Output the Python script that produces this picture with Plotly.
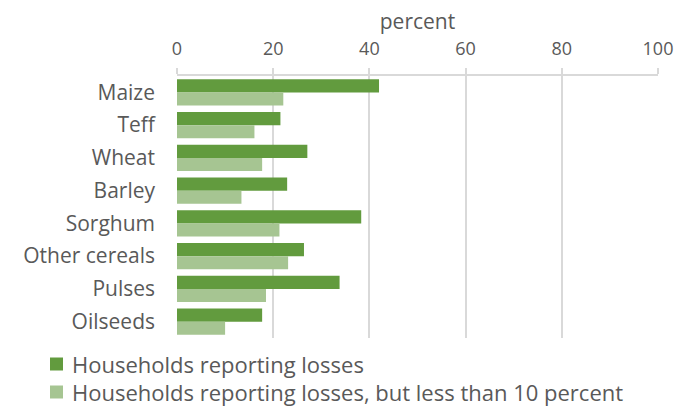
import plotly.graph_objects as go

crops = ["Maize", "Teff", "Wheat", "Barley", "Sorghum", "Other cereals", "Pulses", "Oilseeds"]
losses = [42.0, 21.5, 27.1, 22.9, 38.3, 26.4, 33.8, 17.7]
losses_under10 = [22.1, 16.1, 17.7, 13.4, 21.3, 23.1, 18.5, 10.0]
tick_vals = [0, 20, 40, 60, 80, 100]
series_names = ["Households reporting losses",
                "Households reporting losses, but less than 10 percent"]
series_colors = ["#629b3e", "#a6c592"]

FONT = "Open Sans"
TEXT = "#595959"
GRID = "#d9d9d9"

W, H = 676, 407
ML, MR, MT, MB = 177, 18, 76, 69
PW, PH = W - ML - MR, H - MT - MB


def px_x(px):
    return (px - ML) / PW


def px_y(py):
    return (H - MB - py) / PH


fig = go.Figure()
for name, vals, col in zip(series_names, [losses, losses_under10], series_colors):
    fig.add_trace(go.Bar(
        y=crops, x=vals, orientation="h", name=name,
        marker=dict(color=col, line=dict(width=0)),
    ))

# legend below the plot, drawn as swatches + labels
for i, (name, col) in enumerate(zip(series_names, series_colors)):
    cy = 364 + 28 * i
    fig.add_shape(type="rect", xref="paper", yref="paper",
                  x0=px_x(50), x1=px_x(63), y0=px_y(cy + 6.5), y1=px_y(cy - 6.5),
                  fillcolor=col, line=dict(width=0))
    fig.add_annotation(xref="paper", yref="paper", x=px_x(70), y=px_y(cy),
                       xanchor="left", yanchor="middle", text=name,
                       showarrow=False, font=dict(size=22, color=TEXT))

fig.update_layout(
    width=W, height=H,
    margin=dict(l=ML, r=MR, t=MT, b=MB),
    paper_bgcolor="white", plot_bgcolor="white",
    barmode="group", bargap=0.2, bargroupgap=0,
    showlegend=False,
    font=dict(family=FONT, color=TEXT, size=18),
    xaxis=dict(
        side="top", range=[0, 100], tickvals=tick_vals,
        showgrid=True, gridcolor=GRID, gridwidth=2,
        showline=True, linecolor=GRID, linewidth=2,
        ticks="outside", ticklen=6, tickcolor=GRID, tickwidth=2,
        tickfont=dict(size=18, color=TEXT), ticklabelstandoff=6,
        title=dict(text="percent", font=dict(size=21, color=TEXT), standoff=0),
        zeroline=False, fixedrange=True, automargin=False,
    ),
    yaxis=dict(
        autorange="reversed", showgrid=False, zeroline=False,
        tickfont=dict(size=21, color=TEXT), ticks="", ticklabelstandoff=21,
        automargin=False,
    ),
)

fig.write_html("out.html")
